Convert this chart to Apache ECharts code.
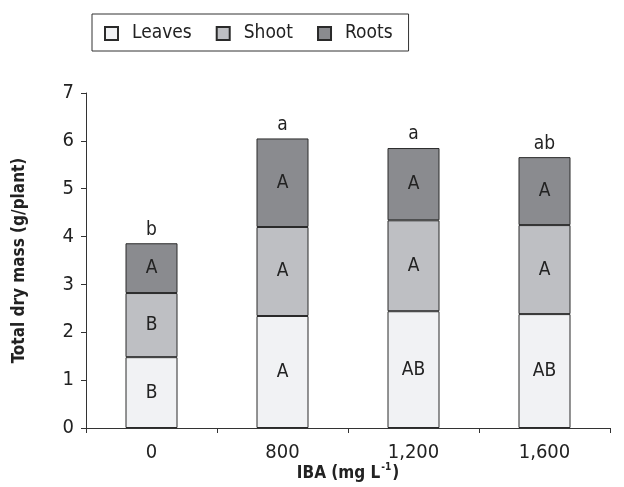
<!DOCTYPE html>
<html><head><meta charset="utf-8">
<script src="https://cdn.jsdelivr.net/npm/echarts@6/dist/echarts.min.js"></script>
<style>html,body{margin:0;padding:0;background:#fff}#c{width:624px;height:487px}</style>
</head><body><div id="c"></div>
<script>
const categories = ['0', '800', '1,200', '1,600'];
const leaves = [1.48, 2.34, 2.44, 2.38];
const shoot = [1.34, 1.86, 1.90, 1.86];
const roots = [1.04, 1.85, 1.51, 1.42];
const leavesLetters = ['B', 'A', 'AB', 'AB'];
const shootLetters = ['B', 'A', 'A', 'A'];
const rootsLetters = ['A', 'A', 'A', 'A'];
const totalLetters = ['b', 'a', 'a', 'ab'];
const yTicks = [0, 1, 2, 3, 4, 5, 6, 7];

const totals = leaves.map((v, i) => v + shoot[i] + roots[i]);
const FONT = '"Liberation Sans Narrow", "DejaVu Sans Condensed", sans-serif';
const chart = echarts.init(document.getElementById('c'));

function seg(name, data, letters, color) {
  return {
    name, type: 'bar', stack: 'total', data, barWidth: 52,
    itemStyle: { color, borderColor: '#2a2a2a', borderWidth: 1 },
    label: { show: true, position: 'inside', fontFamily: FONT, fontSize: 19, color: '#222',
      formatter: p => letters[p.dataIndex] },
    emphasis: { disabled: true }
  };
}

chart.setOption({
  animation: false,
  legend: {
    left: 92, top: 14,
    padding: [10, 16, 8, 12],
    borderColor: '#333', borderWidth: 1,
    itemWidth: 13, itemHeight: 13, itemGap: 24,
    icon: 'rect',
    textStyle: { fontFamily: FONT, fontSize: 19, color: '#222', padding: [0, 0, 0, 9] },
    data: ['Leaves', 'Shoot', 'Roots']
  },
  grid: { left: 86, right: 14, top: 93, bottom: 59, outerBoundsMode: 'none', containLabel: false },
  xAxis: {
    type: 'category', data: categories,
    axisLine: { lineStyle: { color: '#333', width: 1 } },
    axisTick: { show: true, alignWithLabel: false, length: 5, lineStyle: { color: '#333' } },
    axisLabel: { fontFamily: FONT, fontSize: 20, color: '#222', margin: 15 },
    name: '{a|IBA (mg L}{s|-1}{a|)}', nameLocation: 'middle', nameGap: 34, nameMoveOverlap: false,
    nameTextStyle: { rich: {
      a: { fontFamily: FONT, fontSize: 17, fontWeight: 'bold', color: '#222', lineHeight: 20, verticalAlign: 'bottom' },
      s: { fontFamily: FONT, fontSize: 10, fontWeight: 'bold', color: '#222', lineHeight: 20, verticalAlign: 'top', padding: [0, 1, 8, 1] }
    } }
  },
  yAxis: {
    type: 'value', min: 0, max: 7, interval: 1,
    axisLine: { show: true, lineStyle: { color: '#333', width: 1 } },
    axisTick: { show: true, length: 5, lineStyle: { color: '#333' } },
    splitLine: { show: false },
    axisLabel: { fontFamily: FONT, fontSize: 20, color: '#222', margin: 12,
      formatter: v => yTicks.includes(v) ? String(v) : '' },
    name: 'Total dry mass (g/plant)', nameLocation: 'middle', nameGap: 58, nameMoveOverlap: false,
    nameTextStyle: { fontFamily: FONT, fontSize: 17, fontWeight: 'bold', color: '#222' }
  },
  series: [
    seg('Leaves', leaves, leavesLetters, '#f1f2f4'),
    seg('Shoot', shoot, shootLetters, '#bebfc3'),
    seg('Roots', roots, rootsLetters, '#8a8b8f'),
    {
      type: 'scatter', data: totals, symbolSize: 0, silent: true,
      itemStyle: { opacity: 1 },
      label: { show: true, position: 'top', distance: 4, fontFamily: FONT, fontSize: 19, color: '#222',
        formatter: p => totalLetters[p.dataIndex] }
    }
  ]
});
</script></body></html>
